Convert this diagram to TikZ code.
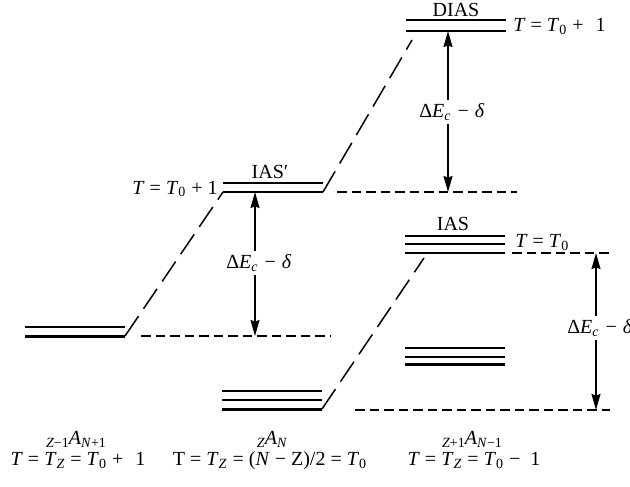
\documentclass[tikz,border=0pt]{standalone}
\usepackage{fontspec}
\setmainfont{Liberation Serif}
\usetikzlibrary{arrows.meta}
\newcommand\iv[1]{\textit{#1}}
\newcommand\sbs[1]{\textsubscript{#1}}
\newcommand\lsb[1]{\raisebox{-1.5pt}{\scriptsize #1}}
\begin{document}
\begin{tikzpicture}[x=0.5pt,y=-0.5pt, font=\fontsize{10}{12}\selectfont,
  lvl/.style={line width=0.75pt},
  lvlthick/.style={line width=1.5pt},
  hdash/.style={line width=0.75pt, dash pattern=on 4.75pt off 2.5pt},
  ddash/.style={line width=0.75pt, dash pattern=on 12pt off 4.5pt},
  dim/.style={line width=0.75pt, {Stealth[length=8pt,width=4.5pt,inset=0.8pt]}-{Stealth[length=8pt,width=4.5pt,inset=0.8pt]}},
  gap/.style={fill=white, inner xsep=0pt, inner ysep=1.5pt},
  txt/.style={inner sep=0pt}]
\useasboundingbox (0,0) rectangle (630,486);

% ---- level coordinates
% left group
\coordinate (La1) at (25,327);  \coordinate (Lb1) at (125,327);
\coordinate (La2) at (25,336);  \coordinate (Lb2) at (125,336);
% IAS'
\coordinate (Pa1) at (223,183); \coordinate (Pb1) at (323,183);
\coordinate (Pa2) at (223,192); \coordinate (Pb2) at (323,192);
% bottom middle
\coordinate (Ma1) at (222,391); \coordinate (Mb1) at (322,391);
\coordinate (Ma2) at (222,400); \coordinate (Mb2) at (322,400);
\coordinate (Ma3) at (222,409); \coordinate (Mb3) at (322,409);
% DIAS
\coordinate (Da1) at (406,20);  \coordinate (Db1) at (506,20);
\coordinate (Da2) at (406,31);  \coordinate (Db2) at (506,31);
% IAS
\coordinate (Ia1) at (405,236); \coordinate (Ib1) at (505,236);
\coordinate (Ia2) at (405,244); \coordinate (Ib2) at (505,244);
\coordinate (Ia3) at (405,253); \coordinate (Ib3) at (505,253);
% lower right
\coordinate (Ra1) at (405,348); \coordinate (Rb1) at (505,348);
\coordinate (Ra2) at (405,357); \coordinate (Rb2) at (505,357);
\coordinate (Ra3) at (405,364); \coordinate (Rb3) at (505,364);

% ---- levels
\draw[lvl] (La1) -- (Lb1);
\draw[lvlthick] (La2) -- (Lb2);
\draw[lvl] (Pa1) -- (Pb1);
\draw[lvl] (Pa2) -- (Pb2);
\draw[lvl] (Ma1) -- (Mb1);
\draw[lvl] (Ma2) -- (Mb2);
\draw[lvlthick] (Ma3) -- (Mb3);
\draw[lvl] (Da1) -- (Db1);
\draw[lvl] (Da2) -- (Db2);
\draw[lvl] (Ia1) -- (Ib1);
\draw[lvl] (Ia2) -- (Ib2);
\draw[lvl] (Ia3) -- (Ib3);
\draw[lvl] (Ra1) -- (Rb1);
\draw[lvl] (Ra2) -- (Rb2);
\draw[lvlthick] (Ra3) -- (Rb3);

% ---- dashed reference lines
\coordinate (h1a) at (141,336); \coordinate (h1b) at (330,336);
\coordinate (h2a) at (337,192); \coordinate (h2b) at (517,192);
\coordinate (h3a) at (512,253); \coordinate (h3b) at (610,253);
\coordinate (h4a) at (355,410); \coordinate (h4b) at (610,410);
\draw[hdash] (h1a) -- (h1b);
\draw[hdash] (h2a) -- (h2b);
\draw[hdash] (h3a) -- (h3b);
\draw[hdash] (h4a) -- (h4b);

% ---- dashed diagonals
\coordinate (d2e) at (424,258);
\coordinate (d3e) at (412,40);
\draw[ddash] (Lb2) -- (Pa2);
\draw[ddash] (Mb3) -- (d2e);
\draw[ddash] (Pb2) -- (d3e);

% ---- dimension arrows
\coordinate (a1t) at (255,192); \coordinate (a1b) at (255,336);
\coordinate (a2t) at (448,31);  \coordinate (a2b) at (448,192);
\coordinate (a3t) at (596,253); \coordinate (a3b) at (596,410);
\draw[dim] (a1b) -- (a1t);
\draw[dim] (a2b) -- (a2t);
\draw[dim] (a3b) -- (a3t);
\node[gap] (g1) at (255,263) {\llap{Δ\iv{E}}\sbs{\iv{c}}\rlap{\hspace{0.3em}−\hspace{0.3em}\iv{δ}}};
\node[gap] (g2) at (448,112) {\llap{Δ\iv{E}}\sbs{\iv{c}}\rlap{\hspace{0.3em}−\hspace{0.3em}\iv{δ}}};
\node[gap] (g3) at (596,328) {\llap{Δ\iv{E}}\sbs{\iv{c}}\rlap{\hspace{0.3em}−\hspace{0.3em}\iv{δ}}};

% ---- level labels
\node[txt, anchor=base] (dias) at (456,17) {DIAS};
\node[txt, anchor=base west] (tdias) at (513,32) {\iv{T} = \iv{T}\sbs{0} +\hspace{0.6em}1};
\node[txt, anchor=base] (iasp) at (270,178) {IAS′};
\node[txt, anchor=base east] (tiasp) at (218,194) {\iv{T} = \iv{T}\sbs{0} + 1};
\node[txt, anchor=base] (ias) at (453,230) {IAS};
\node[txt, anchor=base west] (tias) at (515,247) {\iv{T} = \iv{T}\sbs{0}};

% ---- bottom labels
\node[txt, anchor=base] (n1) at (76,444) {\lsb{\iv{Z}−1}\iv{A}\lsb{\iv{N}+1}};
\node[txt, anchor=base] (t1) at (78,465) {\iv{T} = \iv{T}\sbs{\iv{Z}} = \iv{T}\sbs{0} +\hspace{0.6em}1};
\node[txt, anchor=base] (n2) at (272,444) {\lsb{\iv{Z}}\iv{A}\lsb{\iv{N}}};
\node[txt, anchor=base] (t2) at (270,465) {T = \iv{T}\sbs{\iv{Z}} = (\iv{N} − Z)/2 = \iv{T}\sbs{0}};
\node[txt, anchor=base] (n3) at (472,444) {\lsb{\iv{Z}+1}\iv{A}\lsb{\iv{N}−1}};
\node[txt, anchor=base] (t3) at (474,465) {\iv{T} = \iv{T}\sbs{\iv{Z}} = \iv{T}\sbs{0} −\hspace{0.5em}1};
\end{tikzpicture}
\end{document}
